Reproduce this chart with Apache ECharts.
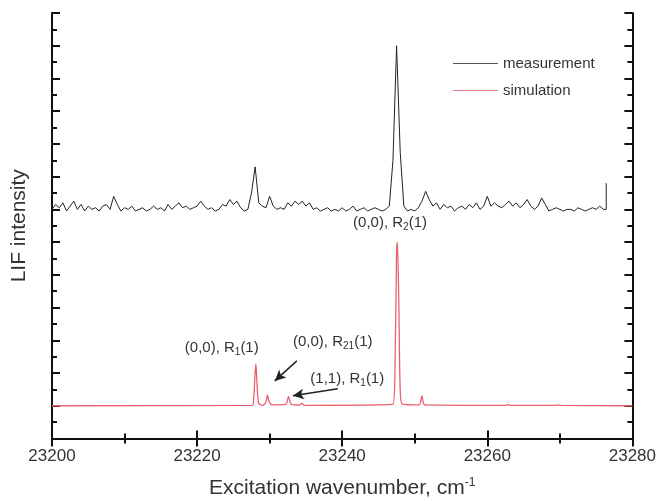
<!DOCTYPE html>
<html><head><meta charset="utf-8">
<script src="https://cdn.jsdelivr.net/npm/echarts@6/dist/echarts.min.js"></script>
<style>html,body{margin:0;padding:0;background:#fff}#c{width:659px;height:504px}</style>
</head><body><div id="c"></div>
<script>
// x tick labels
var xTicks = [23200, 23220, 23240, 23260, 23280];
// measurement: sampled every 0.5 cm-1 from 23200
var measStart = 23200, measStep = 0.5;
var measY = [
 14.0,14.3,14.1,14.4,13.9,14.2,14.5,14.0,14.3,13.9,
 14.2,14.0,14.1,13.9,14.2,14.3,14.0,14.8,14.3,13.9,
 14.1,14.0,14.2,13.9,14.0,14.1,13.9,14.0,14.2,14.0,
 14.1,13.9,14.3,14.0,14.2,14.4,14.1,14.2,14.0,14.1,
 14.2,14.5,14.2,14.0,14.1,13.9,14.0,14.3,14.2,14.6,
 14.3,14.5,14.1,13.9,14.0,15.0,16.6,14.4,14.2,14.1,
 14.8,14.2,14.0,14.1,14.0,14.4,14.2,14.5,14.3,14.5,
 14.2,14.4,14.0,14.1,13.9,14.0,14.1,13.9,14.0,13.9,
 14.1,13.9,14.0,14.2,13.9,14.0,14.1,13.9,14.0,14.1,
 14.0,13.9,14.0,14.2,17.0,24.0,17.5,14.2,13.9,14.0,
 13.9,14.1,14.5,15.1,14.6,14.2,14.4,14.0,14.3,14.1,
 14.2,13.9,14.1,14.2,14.0,14.3,14.1,14.4,14.0,14.2,
 14.8,14.2,14.4,14.2,14.1,14.3,14.5,14.2,14.4,14.1,
 14.3,14.6,14.2,14.0,14.2,14.7,14.3,13.9,14.0,14.1,
 14.0,13.9,14.0,14.0,13.9,14.1,14.0,13.9,14.0,14.1,
 14.0,14.2,14.0
];
var measTailX = [23276.4, 23276.4];
var measTailY = [14.0, 15.6];
// simulation
var simX = [23200,23227.6,23227.8,23228.0,23228.1,23228.3,23228.5,23229.0,23229.5,23229.7,23229.9,23230.3,
 23232.2,23232.6,23233.0,23234.1,23234.4,23234.8,23247.0,23247.3,23247.5,23247.6,23247.8,23248.0,23248.3,
 23250.6,23251.0,23251.4,23262.4,23262.8,23263.2,23269.4,23269.8,23270.2,23280];
var simY = [2,2.03,2.4,4.0,4.56,3.0,2.15,2.03,2.25,2.67,2.3,2.05,
 2.08,2.55,2.08,2.04,2.15,2.03,2.1,5.0,11.5,12.0,8.5,3.0,2.1,
 2.05,2.6,2.05,2.02,2.07,2.02,2.02,2.06,2.02,2];
// annotations
var labelTexts = ['(0,0), R{sub|2}(1)', '(0,0), R{sub|1}(1)', '(0,0), R{sub|21}(1)', '(1,1), R{sub|1}(1)'];
var labelX = [23246.6, 23223.4, 23238.7, 23240.7];
var labelY = [13.2, 5.55, 5.9, 3.65];
var arrowFrom = [[23233.75, 4.74], [23239.4, 3.04]];
var arrowTo = [[23230.7, 3.52], [23233.2, 2.61]];

var meas = measY.map(function (v, i) { return [measStart + i * measStep, v]; });
for (var k = 0; k < measTailX.length; k++) meas.push([measTailX[k], measTailY[k]]);
var sim = simX.map(function (x, i) { return [x, simY[i]]; });

var FF = 'Liberation Sans';
var richLbl = { sub: { fontSize: 10, padding: [9, 0, 0, 0], color: '#333', fontFamily: FF } };
var marks = labelTexts.map(function (t, i) {
  return { coord: [labelX[i], labelY[i]], symbolSize: 0,
    label: { show: true, position: 'inside', formatter: t, color: '#333', fontSize: 15, fontFamily: FF, rich: richLbl } };
});
var arrows = arrowFrom.map(function (f, i) {
  return [{ coord: f, symbol: 'none' }, { coord: arrowTo[i], symbol: 'arrow', symbolSize: [8, 11] }];
});

var axisLine = { show: true, lineStyle: { color: '#111', width: 2 } };
var tickLine = { color: '#111', width: 2 };
var chart = echarts.init(document.getElementById('c'));
chart.setOption({
  animation: false,
  grid: { left: 52, right: 26, top: 13, bottom: 63 },
  legend: {
    orient: 'vertical', left: 448, top: 51, itemWidth: 45, itemHeight: 10, itemGap: 12,
    textStyle: { fontSize: 15, color: '#333', fontFamily: FF },
    data: [
      { name: 'measurement', icon: 'path://M0,0 L45,0 L45,1 L0,1 Z', itemStyle: { color: '#555' } },
      { name: 'simulation', icon: 'path://M0,0 L45,0 L45,1 L0,1 Z', itemStyle: { color: '#e97a84' } }
    ]
  },
  xAxis: [{
    type: 'value', min: 23200, max: 23280, interval: 20, position: 'bottom',
    axisLine: axisLine, splitLine: { show: false },
    axisTick: { inside: true, length: 8, lineStyle: tickLine },
    minorTick: { show: true, splitNumber: 2, length: 5, lineStyle: tickLine },
    axisLabel: { fontSize: 17, color: '#333', margin: 9, fontFamily: FF,
      formatter: function (v) { return xTicks.indexOf(v) >= 0 ? String(v) : ''; } },
    name: 'Excitation wavenumber, cm{sup|-1}', nameLocation: 'middle', nameGap: 38,
    nameTextStyle: { fontSize: 21, color: '#333', fontFamily: FF,
      rich: { sup: { fontSize: 12, padding: [0, 0, 12, 0], color: '#333', fontFamily: FF } } }
  }, {
    type: 'value', min: 23200, max: 23280, interval: 20, position: 'top',
    axisLine: axisLine, splitLine: { show: false }, axisLabel: { show: false },
    axisTick: { inside: true, length: 8, lineStyle: tickLine },
    minorTick: { show: true, splitNumber: 2, length: 5, lineStyle: tickLine }
  }],
  yAxis: [{
    type: 'value', min: 0, max: 26, interval: 2, position: 'left',
    axisLine: axisLine, splitLine: { show: false }, axisLabel: { show: false },
    axisTick: { inside: true, length: 8, lineStyle: tickLine },
    minorTick: { show: true, splitNumber: 2, length: 5, lineStyle: tickLine },
    name: 'LIF intensity', nameLocation: 'middle', nameGap: 22,
    nameTextStyle: { fontSize: 21, color: '#333', fontFamily: FF }
  }, {
    type: 'value', min: 0, max: 26, interval: 2, position: 'right',
    axisLine: axisLine, splitLine: { show: false }, axisLabel: { show: false },
    axisTick: { inside: true, length: 8, lineStyle: tickLine },
    minorTick: { show: true, splitNumber: 2, length: 5, lineStyle: tickLine }
  }],
  series: [{
    name: 'measurement', type: 'line', data: meas, showSymbol: false, symbol: 'none',
    lineStyle: { color: '#222', width: 1 }, itemStyle: { color: '#555' }
  }, {
    name: 'simulation', type: 'line', data: sim, showSymbol: false, symbol: 'none', smooth: 0.3,
    lineStyle: { color: '#e8606c', width: 1.3 }, itemStyle: { color: '#e97a84' },
    markPoint: { symbol: 'circle', data: marks, silent: true },
    markLine: { silent: true, symbol: ['none', 'arrow'], label: { show: false },
      lineStyle: { color: '#222', width: 1.5, type: 'solid' }, data: arrows }
  }]
});
</script></body></html>
